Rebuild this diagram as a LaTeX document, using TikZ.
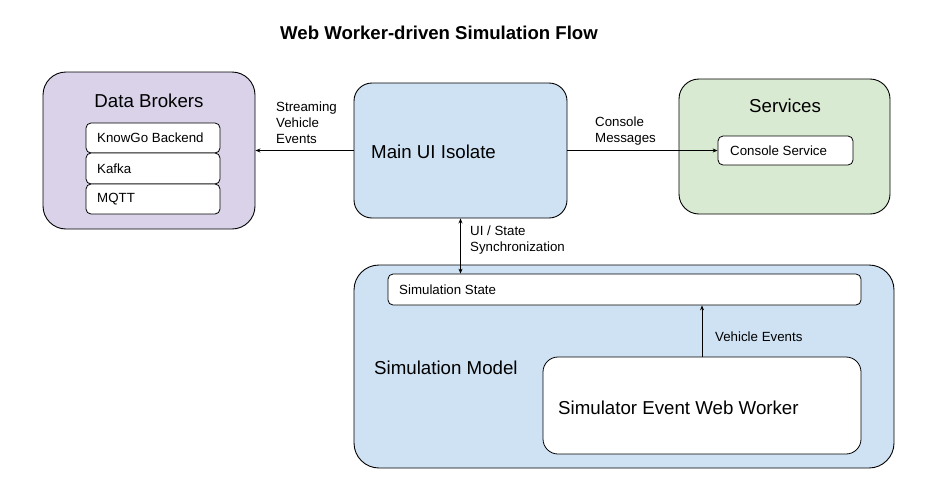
\documentclass[tikz,border=0pt]{standalone}
\usepackage{fontspec}
\setmainfont{Liberation Sans}
\usetikzlibrary{arrows.meta}
\definecolor{brokerfill}{HTML}{D9D2E9}
\definecolor{bluefill}{HTML}{CFE2F3}
\definecolor{greenfill}{HTML}{D9EAD3}
\tikzset{
  box/.style={draw=black, line width=0.9pt, inner sep=0pt, minimum width=#1},
  inbox/.style={draw=black, line width=0.8pt, fill=white, inner sep=0pt, rounded corners=5pt},
  big/.style={font=\fontsize{18.7}{22}\selectfont, inner sep=0pt},
  small/.style={font=\fontsize{13.3}{16}\selectfont, inner sep=0pt, align=left},
  arr/.style={line width=0.8pt, -{Stealth[length=5pt,width=4pt]}},
  darr/.style={line width=0.8pt, {Stealth[length=5pt,width=4pt]}-{Stealth[length=5pt,width=4pt]}}
}
\begin{document}
\begin{tikzpicture}[x=1pt,y=-1pt]
\useasboundingbox (0,0) rectangle (929,493);
\fill[white] (0,0) rectangle (929,493);

\node[font=\bfseries\fontsize{18.6}{22}\selectfont, inner sep=0pt] (title) at (439,33) {Web Worker-driven Simulation Flow};

% Data Brokers
\node[box=212pt, minimum height=157pt, fill=brokerfill, rounded corners=23pt] (brokers) at (149,150.5) {};
\node[big] (brokerstitle) at (149,101) {Data Brokers};
\node[inbox, minimum width=134pt, minimum height=30pt] (knowgo) at (153,138) {};
\node[inbox, minimum width=134pt, minimum height=31pt] (kafka) at (153,168.5) {};
\node[inbox, minimum width=134pt, minimum height=30pt] (mqtt) at (153,199) {};
\node[small, anchor=west] (knowgot) at (97,138) {KnowGo Backend};
\node[small, anchor=west] (kafkat) at (97,168.5) {Kafka};
\node[small, anchor=west] (mqttt) at (97,199) {MQTT};

% Main UI
\node[box=213pt, minimum height=135pt, fill=bluefill, rounded corners=18pt] (main) at (460.5,150.5) {};
\node[big, anchor=west] (maint) at (371,152) {Main UI Isolate};

% Services
\node[box=211pt, minimum height=135pt, fill=greenfill, rounded corners=20pt] (services) at (784.5,146.5) {};
\node[big] (servicest) at (785,106) {Services};
\node[inbox, minimum width=135pt, minimum height=29pt] (console) at (785.5,150.5) {};
\node[small, anchor=west] (consolet) at (730,151) {Console Service};

% Simulation Model
\node[box=540pt, minimum height=203pt, fill=bluefill, rounded corners=25pt] (simmodel) at (624,366.5) {};
\node[big, anchor=west] (simmodelt) at (374,368) {Simulation Model};
\node[inbox, minimum width=473pt, minimum height=31pt] (simstate) at (624.5,289.5) {};
\node[small, anchor=west] (simstatet) at (399,290) {Simulation State};
\node[inbox, minimum width=318pt, minimum height=97pt, rounded corners=15pt] (worker) at (702,405.5) {};
\node[big, anchor=west] (workert) at (558,408) {Simulator Event Web Worker};

% Connectors
\draw[arr] (main.west) -- (brokers.east);
\node[small, anchor=west] (streamlbl) at (276,123) {Streaming\\Vehicle\\Events};
\draw[arr] (main.east) -- (console.west);
\node[small, anchor=west] (consolelbl) at (595,131) {Console\\Messages};
\draw[darr] (main.south) -- (main.south |- simstate.north);
\node[small, anchor=west] (synclbl) at (470,240) {UI / State\\Synchronization};
\draw[arr] (worker.north) -- (worker.north |- simstate.south);
\node[small, anchor=west] (vehlbl) at (715,337) {Vehicle Events};
\end{tikzpicture}
\end{document}
